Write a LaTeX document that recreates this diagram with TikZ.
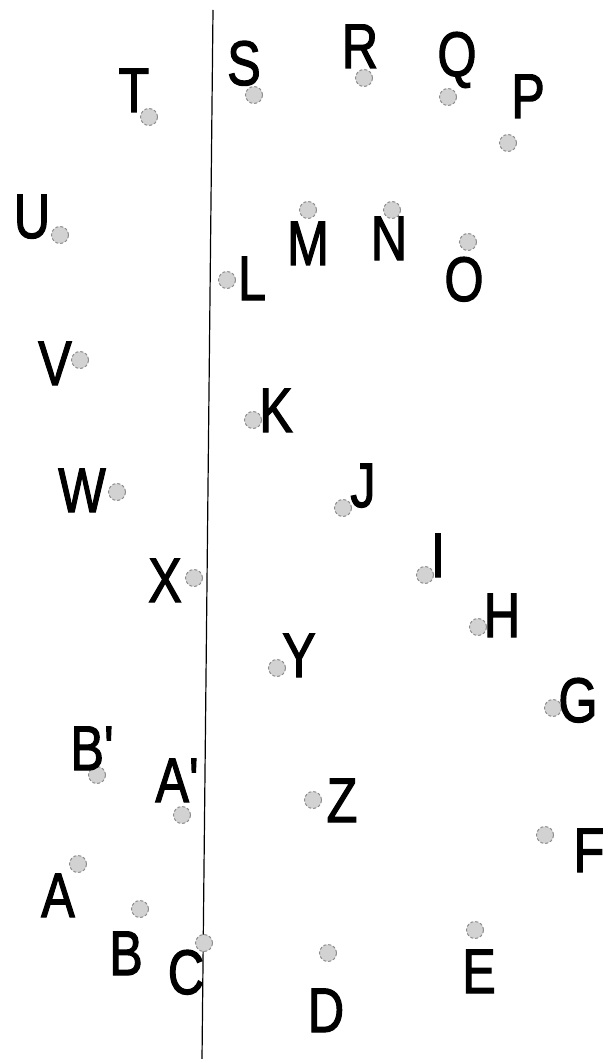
\documentclass[tikz,border=0pt]{standalone}
\usepackage{fontspec}
\setmainfont{Liberation Sans}
\newfontfamily\markenfont{Liberation Sans}[FakeBold=2]
\usepackage{tikz}
\tikzset{
  Punkt/.style={circle, inner sep=0pt, minimum size=17pt, fill=gray!35, draw=gray!90, densely dashed, line width=1pt}, % Punkte
  Marke/.style={anchor=base, inner sep=0pt, xscale=.8, font=\markenfont\fontsize{63}{63}\selectfont} % Buchstaben
}
\begin{document}
\begin{tikzpicture}[x=1pt, y=-1pt]
\useasboundingbox (0,0) rectangle (604,1059);

%Gerade
\coordinate (oben) at (213,10);
\coordinate (unten) at (202,1059);
\draw[line width=1.2pt] (oben) -- (unten);

%Punkte
\foreach \n/\x/\y in {A/78/864, B/140/909, C/204/943, D/328/953, E/475/930,
  F/545/835, G/553/708, H/478/627, I/425/575, J/343/508, K/253/420,
  L/227/280, M/308/210, N/392/210, O/468/242, P/508/143, Q/448/97,
  R/364/78, S/254/95, T/149/117, U/60/235, V/80/360, W/117/492,
  X/194/578, Y/277/668, Z/313/800, As/182/815, Bs/97/775}
  \node[Punkt] (\n) at (\x,\y) {};

%Beschriftungen
\node[Marke] (lA) at (58,917) {A};
\node[Marke] (lB) at (126,975) {B};
\node[Marke] (lC) at (186,994) {C};
\node[Marke] (lD) at (326,1032) {D};
\node[Marke] (lE) at (479,993) {E};
\node[Marke] (lF) at (589,872) {F};
\node[Marke] (lG) at (578,722) {G};
\node[Marke] (lH) at (502,637) {H};
\node[Marke] (lI) at (438,577) {I};
\node[Marke] (lJ) at (363,507) {J};
\node[Marke] (lK) at (276,432) {K};
\node[Marke] (lL) at (252,300) {L};
\node[Marke] (lM) at (308,265) {M};
\node[Marke] (lN) at (389,260) {N};
\node[Marke] (lO) at (464,301) {O};
\node[Marke] (lP) at (528,118) {P};
\node[Marke] (lQ) at (457,76) {Q};
\node[Marke] (lR) at (360,68) {R};
\node[Marke] (lS) at (244,85) {S};
\node[Marke] (lT) at (134,112) {T};
\node[Marke] (lU) at (32,238) {U};
\node[Marke] (lV) at (55,385) {V};
\node[Marke] (lW) at (82,512) {W};
\node[Marke] (lX) at (165,602) {X};
\node[Marke] (lY) at (299,677) {Y};
\node[Marke] (lZ) at (342,822) {Z};
\node[Marke] (lAs) at (177,802) {A\textquotesingle};
\node[Marke] (lBs) at (92,770) {B\textquotesingle};
\end{tikzpicture}
\end{document}
